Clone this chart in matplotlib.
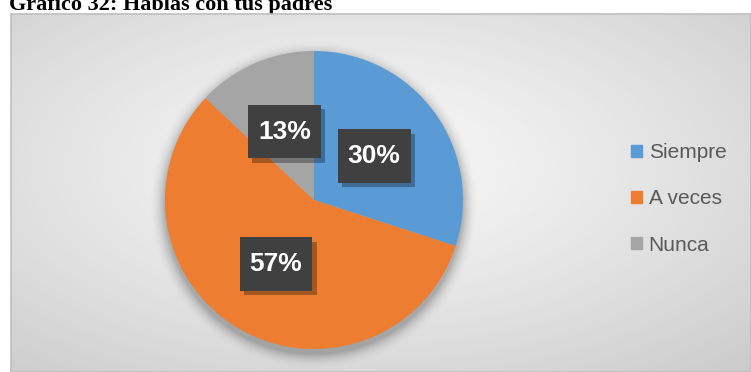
import numpy as np
import matplotlib.pyplot as plt
import matplotlib.patheffects as pe
from matplotlib.patches import Patch
from matplotlib.path import Path

categorias = ["Siempre", "A veces", "Nunca"]
porcentajes = [30, 57, 13]
colores = ["#5B9BD5", "#ED7D31", "#A5A5A5"]
titulo = "Gráfico 32: Hablas con tus padres"

W, H = 751, 372
fig = plt.figure(figsize=(W / 100, H / 100), dpi=100)

# chart frame and pie geometry, in pixels from the top-left corner
fx0, fy0 = 11, 14
cx, cy, r = 314, 200, 149

# background: soft radial grey gradient plus a blurred shadow under the pie
bg = fig.add_axes([fx0 / W, 0, (W - fx0) / W, (H - fy0) / H])
yy, xx = np.mgrid[fy0:H, fx0:W] + 0.5
gx, gy = 360, 165
dx = (xx - gx) / ((W - fx0) / 2)
dy = (yy - gy) / ((H - fy0) / 2)
d = np.sqrt(dx ** 2 + dy ** 2) / np.sqrt(2)
grey = 0.975 - 0.16 * np.clip(d, 0, 1.2) ** 1.2
dist = np.sqrt((xx - cx) ** 2 + (yy - (cy + 5)) ** 2)
shadow = 0.26 * np.clip(1 - (dist - r) / 16, 0, 1) ** 2
grey = grey * (1 - shadow)
img = np.dstack([grey, grey, grey])
bg.imshow(img, extent=(fx0, W, H, fy0), interpolation="bilinear", aspect="auto")
bg.set_xlim(fx0, W)
bg.set_ylim(H, fy0)
bg.set_xticks([])
bg.set_yticks([])
for s in bg.spines.values():
    s.set_color("#BFBFBF")
    s.set_linewidth(1.2)

fig.text(9 / W, 1 - 10 / H, titulo, family="Liberation Serif", weight="bold",
         fontsize=16, ha="left", va="baseline", zorder=-1)


def caja(x0, y0, width, height, mutation_size):
    # label box: narrower padding at the sides than above and below
    px, py = 0.38 * mutation_size, 0.56 * mutation_size
    return Path([(x0 - px, y0 - py), (x0 + width + px, y0 - py),
                 (x0 + width + px, y0 + height + py), (x0 - px, y0 + height + py),
                 (x0 - px, y0 - py)], closed=True)


# pie
pax = fig.add_axes([(cx - r) / W, 1 - (cy + r) / H, 2 * r / W, 2 * r / H])
wedges, texts, autotexts = pax.pie(
    porcentajes, colors=colores, startangle=90, counterclock=False,
    radius=1, pctdistance=0.5, autopct=lambda p: f"{p:.0f}%",
    textprops=dict(color="white", fontsize=19, fontweight="bold",
                   family="Liberation Sans"))
for t in autotexts:
    t.set_bbox(dict(boxstyle=caja, fc="#404040", ec="none"))
    t.get_bbox_patch().set_path_effects(
        [pe.SimplePatchShadow(offset=(3, -3), shadow_rgbFace="#000000", alpha=0.3),
         pe.Normal()])
pax.set_xlim(-1, 1)
pax.set_ylim(-1, 1)
pax.set_aspect("equal")
pax.axis("off")

handles = [Patch(color=c) for c in colores]
fig.legend(handles, categorias, loc="center left",
           bbox_to_anchor=(631 / W, 1 - 199 / H), frameon=False,
           prop=dict(family="Liberation Sans", size=15), labelcolor="#595959",
           labelspacing=1.3, handlelength=0.55, handleheight=0.55,
           handletextpad=0.3, borderpad=0, borderaxespad=0)

fig.savefig("out.png", dpi=100)
